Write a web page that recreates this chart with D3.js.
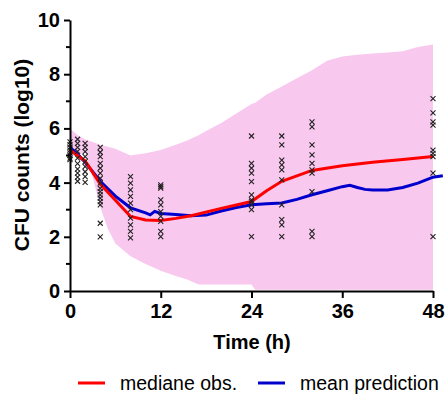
<!DOCTYPE html>
<html>
<head>
<meta charset="utf-8">
<script src="https://cdn.jsdelivr.net/npm/d3@7"></script>
<style>
    body { margin: 0; background: #fff; }
    svg { display: block; font-family: "Liberation Sans", Arial, sans-serif; }
</style>
</head>
<body>
<svg id="chart" width="446" height="394"></svg>
<script>
// time points where CFU were sampled, and the values seen at each one
var obsTimes = [0, 1, 2, 4, 8, 12, 24, 28, 32, 48];
var obsCfu = [
    [5.5, 5.4, 5.3, 5.2, 5.1, 5.0, 4.9, 4.85],
    [5.6, 5.45, 5.3, 5.15, 4.9, 4.7, 4.5, 4.35, 4.2, 4.05],
    [5.45, 5.3, 5.14, 4.96, 4.77, 4.59, 4.4, 4.22, 4.01],
    [5.3, 5.12, 4.96, 4.71, 4.53, 4.35, 4.16, 3.98, 3.79, 3.67, 3.55, 3.43, 3.3, 3.18, 2.5, 2.0],
    [4.22, 3.98, 3.73, 3.49, 3.24, 3.0, 2.69, 2.44, 2.2, 1.96],
    [3.92, 3.85, 3.8, 3.36, 3.18, 2.93, 2.75, 2.57, 2.2, 2.01],
    [5.72, 4.71, 4.53, 4.35, 4.04, 3.55, 3.36, 3.3, 3.18, 3.0, 2.01],
    [5.72, 5.39, 4.83, 4.65, 4.47, 4.1, 3.18, 2.63, 2.44, 2.01],
    [6.24, 6.06, 5.39, 5.02, 4.71, 4.47, 4.35, 3.67, 2.2, 2.01],
    [7.1, 6.57, 6.24, 6.12, 5.2, 5.08, 4.96, 4.35, 2.01]
];

// median of observations (red)
var medTimes = [0, 1, 2, 4, 6, 8, 10, 12, 14, 16, 20, 24, 26, 28, 32, 36, 40, 44, 48];
var medCfu = [5.2, 5.0, 4.8, 3.95, 3.35, 2.75, 2.62, 2.6, 2.68, 2.78, 3.05, 3.3, 3.7, 4.05, 4.45, 4.62, 4.75, 4.85, 4.96];

// mean model prediction (blue)
var predTimes = [0, 1, 2, 4, 6, 8, 10, 10.6, 11.2, 12, 14, 16, 18, 20, 22, 24, 26, 28, 30, 32, 34, 36, 37, 38, 39, 40, 42, 44, 46, 48, 49.3];
var predCfu = [5.3, 5.05, 4.75, 4.05, 3.5, 3.07, 2.88, 2.81, 2.94, 2.86, 2.82, 2.78, 2.8, 2.95, 3.08, 3.18, 3.22, 3.25, 3.38, 3.55, 3.7, 3.85, 3.9, 3.82, 3.75, 3.73, 3.73, 3.82, 3.98, 4.2, 4.25];

// prediction interval (pink band)
var bandTimes = [0, 1, 2, 3, 4, 5, 6, 8, 10, 12, 14, 15.5, 17, 18, 20, 22, 24, 24.5, 26, 28, 30, 32, 34, 36, 38, 40, 42, 44, 46, 48];
var bandHigh = [6.0, 5.75, 5.6, 5.5, 5.4, 5.32, 5.25, 5.0, 5.08, 5.2, 5.4, 5.55, 5.75, 5.9, 6.2, 6.55, 6.9, 6.95, 7.25, 7.55, 7.85, 8.15, 8.5, 8.65, 8.72, 8.76, 8.8, 8.85, 9.0, 9.1];
var bandLow = [4.95, 5.0, 5.15, 4.2, 3.1, 2.3, 1.75, 1.28, 1.0, 0.75, 0.55, 0.42, 0.24, 0.24, 0.24, 0.24, 0.24, 0.05, 0.05, 0.05, 0.05, 0.05, 0.05, 0.05, 0.05, 0.05, 0.05, 0.05, 0.05, 0.05];

var xTicks = [0, 12, 24, 36, 48];
var yTicks = [0, 2, 4, 6, 8, 10];
var yMinor = [1, 3, 5, 7, 9];
var legendNames = ["mediane obs.", "mean prediction"];
var legendColors = ["#ff0000", "#0000cc"];

var svg = d3.select("#chart");
var x = d3.scaleLinear().domain([0, 48]).range([70, 433]);
var y = d3.scaleLinear().domain([0, 10]).range([291, 20]);

// band
var band = bandTimes.map(function (t, i) { return [t, bandLow[i], bandHigh[i]]; });
svg.append("path").datum(band)
    .attr("fill", "#f8c8ee")
    .attr("d", d3.area()
        .x(function (d) { return x(d[0]); })
        .y0(function (d) { return y(d[1]); })
        .y1(function (d) { return y(d[2]); }));

// lines
var line = d3.line()
    .x(function (d) { return x(d[0]); })
    .y(function (d) { return y(d[1]); });
svg.append("path").datum(predTimes.map(function (t, i) { return [t, predCfu[i]]; }))
    .attr("fill", "none").attr("stroke", legendColors[1]).attr("stroke-width", 3)
    .attr("d", line);
svg.append("path").datum(medTimes.map(function (t, i) { return [t, medCfu[i]]; }))
    .attr("fill", "none").attr("stroke", legendColors[0]).attr("stroke-width", 3)
    .attr("d", line);

// observations
var pts = [];
obsTimes.forEach(function (t, i) {
    obsCfu[i].forEach(function (v) { pts.push([t, v]); });
});
svg.append("g").selectAll("path").data(pts).enter().append("path")
    .attr("transform", function (d) { return "translate(" + x(d[0]) + "," + y(d[1]) + ")"; })
    .attr("d", d3.symbol(d3.symbolX, 18))
    .attr("fill", "none").attr("stroke", "#222").attr("stroke-width", 1.1);

// axes
var xAxis = svg.append("g").attr("transform", "translate(0," + y(0) + ")")
    .call(d3.axisBottom(x).tickValues(xTicks).tickSize(7).tickSizeOuter(0).tickPadding(6));
var yAxis = svg.append("g").attr("transform", "translate(" + x(0) + ",0)")
    .call(d3.axisLeft(y).tickValues(yTicks).tickSize(6).tickSizeOuter(0).tickPadding(4));
yAxis.selectAll(".minor").data(yMinor).enter().append("line")
    .attr("class", "minor")
    .attr("x1", -4).attr("x2", 0)
    .attr("y1", function (d) { return y(d); }).attr("y2", function (d) { return y(d); })
    .attr("stroke", "#000").attr("stroke-width", 2);

[xAxis, yAxis].forEach(function (a) {
    a.select(".domain").attr("stroke", "#000").attr("stroke-width", 2);
    a.selectAll(".tick line").attr("stroke", "#000").attr("stroke-width", 2);
    a.selectAll(".tick text")
        .attr("fill", "#000")
        .style("font-size", "20px").style("font-weight", "bold")
        .style("font-family", "'Liberation Sans', Arial, sans-serif");
});

// axis titles
svg.append("text").attr("x", 252).attr("y", 349).attr("text-anchor", "middle")
    .style("font-size", "20px").style("font-weight", "bold").text("Time (h)");
svg.append("text").attr("transform", "translate(29,155) rotate(-90)").attr("text-anchor", "middle")
    .style("font-size", "21px").style("font-weight", "bold").text("CFU counts (log10)");

// legend
var legX = [78, 258];
var leg = svg.append("g").selectAll("g").data(legendNames).enter().append("g")
    .attr("transform", function (d, i) { return "translate(" + legX[i] + ",383)"; });
leg.append("line").attr("x1", 0).attr("x2", 27)
    .attr("stroke", function (d, i) { return legendColors[i]; }).attr("stroke-width", 3);
leg.append("text").attr("x", 42).attr("y", 7)
    .style("font-size", "19.5px").text(function (d) { return d; });
</script>
</body>
</html>
